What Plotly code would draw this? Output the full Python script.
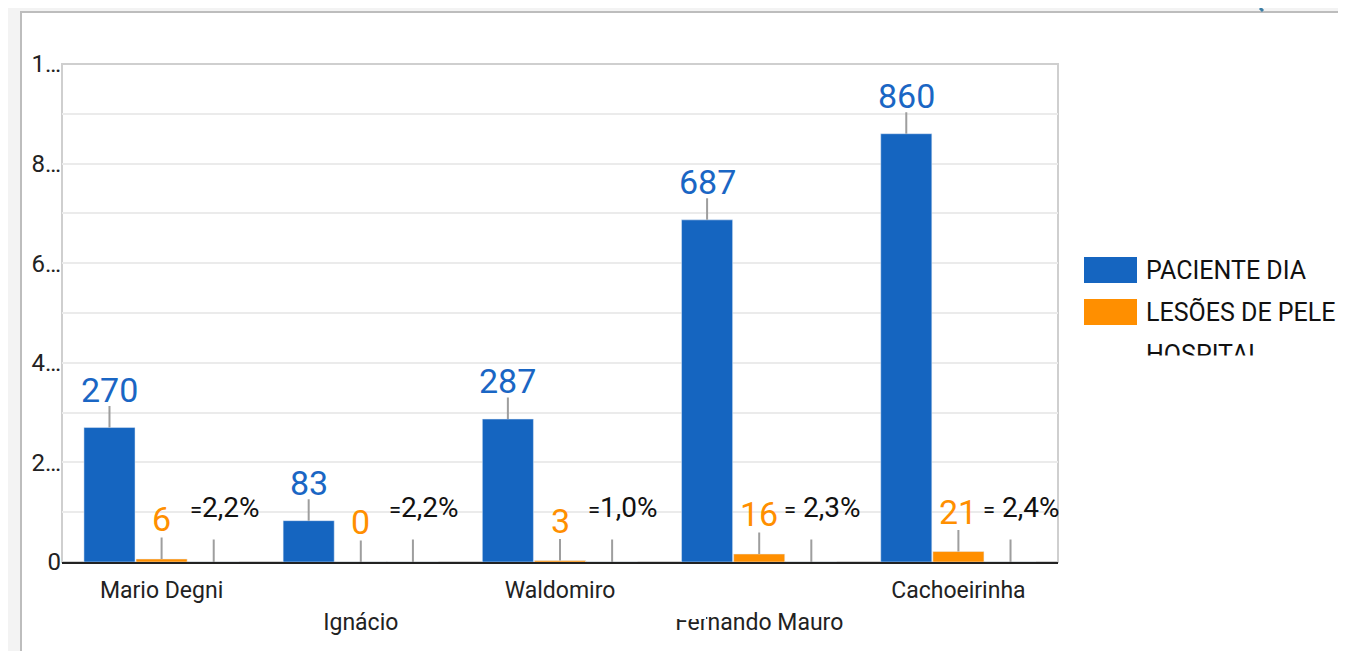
import plotly.graph_objects as go

# dados do gráfico
categorias = ["Mario Degni", "Ignácio", "Waldomiro", "Fernando Mauro", "Cachoeirinha"]
paciente_dia = [270, 83, 287, 687, 860]
lesoes_pele = [6, 0, 3, 16, 21]
percentuais = ["=2,2%", "=2,2%", "=1,0%", "= 2,3%", "= 2,4%"]
nomes_series = ["PACIENTE DIA", "LESÕES DE PELE", "HOSPITAL"]
y_ticks = [0, 200, 400, 600, 800, 1000]
y_tick_text = ["0", "2…", "4…", "6…", "8…", "1…"]

AZUL = "#1565c0"
LARANJA = "#ff8f00"
CINZA_HASTE = "#9e9e9e"
FONTE = "Roboto"

# a página tem 8px de margem no body
OFF = 8
W, H = 1346 - OFF, 651 - OFF
PL, PR, PT, PB = 62, 1058, 64, 562  # área do gráfico em pixels da página
PW, PH = PR - PL, PB - PT
ML, MT = PL - OFF, PT - OFF
MR, MB = W - ML - PW, H - MT - PH


def px_x(p):
    return (p - PL) / PW


def px_y(p):
    return (PB - p) / PH


BARGAP = 0.215
larg = (1 - BARGAP) / 3

fig = go.Figure()
fig.add_trace(go.Bar(x=categorias, y=paciente_dia, name=nomes_series[0],
                     marker_color=AZUL, hoverinfo="skip"))
fig.add_trace(go.Bar(x=categorias, y=lesoes_pele, name=nomes_series[1],
                     marker_color=LARANJA, hoverinfo="skip"))
# terceira série (percentual) só ocupa o lugar no grupo
fig.add_trace(go.Bar(x=categorias, y=[0] * len(categorias), name="pct",
                     marker_color="rgba(0,0,0,0)", hoverinfo="skip"))
# eixo auxiliar para os rótulos da segunda linha
fig.add_trace(go.Scatter(x=categorias, y=[None] * len(categorias), xaxis="x2",
                         showlegend=False, hoverinfo="skip"))

anots = []


def rotulo(x, y, texto, cor, tam, haste, yshift, xshift=0):
    anots.append(dict(x=x, y=y, xref="x", yref="y", text="", showarrow=True,
                      arrowhead=0, arrowwidth=2, arrowcolor=CINZA_HASTE,
                      ax=0, ay=-haste))
    anots.append(dict(x=x, y=y, xref="x", yref="y", text=texto, showarrow=False,
                      yanchor="bottom", xanchor="center", yshift=yshift, xshift=xshift,
                      font=dict(family=FONTE, size=tam, color=cor)))


for i in range(len(categorias)):
    rotulo(i - larg, paciente_dia[i], str(paciente_dia[i]), "#1a66c4", 34, 23, 16)
    rotulo(i, lesoes_pele[i], str(lesoes_pele[i]), "#ff8f00", 34, 23, 18)
    pct = percentuais[i].replace("=", "<span style='font-size:22px'>=</span>")
    rotulo(i + larg, 0, pct, "#111111", 28, 24, 36, 11)

# legenda desenhada à mão (quadrados grandes como no original)
shapes = []
leg = [(AZUL, nomes_series[0], 257, 283), (LARANJA, nomes_series[1], 299, 325)]
for cor, nome, y0, y1 in leg:
    shapes.append(dict(type="rect", xref="paper", yref="paper",
                       x0=px_x(1084), x1=px_x(1137), y0=px_y(y1), y1=px_y(y0),
                       fillcolor=cor, line=dict(width=0), layer="above"))
    anots.append(dict(x=px_x(1144), y=px_y((y0 + y1) / 2), xref="paper", yref="paper",
                      text=nome, showarrow=False, xanchor="left", yanchor="middle",
                      font=dict(family=FONTE, size=25, color="#111111")))
anots.append(dict(x=px_x(1144), y=px_y(354), xref="paper", yref="paper",
                  text=nomes_series[2], showarrow=False, xanchor="left", yanchor="middle",
                  font=dict(family=FONTE, size=25, color="#111111")))
# corte da legenda (texto cortado no original)
anots.append(dict(x=px_x(1138), y=px_y(355), xref="paper", yref="paper",
                  text=" ", showarrow=False, xanchor="left", yanchor="top",
                  width=220, height=34, bgcolor="white", borderpad=0))

# cartão branco e moldura
shapes.insert(0, dict(type="rect", xref="paper", yref="paper",
                      x0=px_x(21), x1=px_x(W + 40), y0=px_y(H + 40), y1=px_y(12),
                      fillcolor="white", line=dict(color="#bdbdbd", width=2), layer="below"))
shapes.append(dict(type="rect", xref="paper", yref="paper", x0=0, x1=1, y0=0, y1=1,
                   line=dict(color="#cfcfcf", width=2), layer="below"))
shapes.append(dict(type="line", xref="paper", yref="paper",
                   x0=px_x(1260), x1=px_x(1263), y0=px_y(OFF), y1=px_y(11),
                   line=dict(color="#3c7ea6", width=3)))
# tarja branca que cobre o topo de "Fernando Mauro"
shapes.append(dict(type="rect", xref="paper", yref="paper",
                   x0=px_x(668), x1=px_x(706), y0=px_y(619), y1=px_y(604),
                   fillcolor="white", line=dict(width=0), layer="above"))

fig.update_layout(
    width=W, height=H,
    margin=dict(l=ML, r=MR, t=MT, b=MB),
    paper_bgcolor="#f3f3f3",
    plot_bgcolor="white",
    barmode="group", bargap=BARGAP, bargroupgap=0.02,
    showlegend=False,
    font=dict(family=FONTE, size=22, color="#222222"),
    annotations=anots,
    shapes=shapes,
    xaxis=dict(type="category", categoryarray=categorias, range=[-0.5, 4.5],
               tickmode="array", tickvals=categorias[0::2], ticktext=categorias[0::2],
               ticks="", showgrid=False, zeroline=False, showline=True,
               linecolor="#222222", linewidth=2, ticklabelstandoff=6,
               tickfont=dict(family=FONTE, size=23, color="#222222")),
    xaxis2=dict(type="category", categoryarray=categorias, range=[-0.5, 4.5],
                overlaying="x", side="bottom", anchor="y",
                tickmode="array", tickvals=categorias[1::2], ticktext=categorias[1::2],
                ticks="", showgrid=False, zeroline=False, showline=False,
                ticklabelstandoff=44,
                tickfont=dict(family=FONTE, size=23, color="#222222")),
    yaxis=dict(range=[0, 1000], tickmode="array",
               tickvals=list(range(0, 1001, 100)),
               ticktext=[y_tick_text[y_ticks.index(v)] if v in y_ticks else "" for v in range(0, 1001, 100)],
               showgrid=True, gridcolor="#ebebeb", gridwidth=1.5,
               zeroline=False, showline=False, ticks="",
               tickfont=dict(family=FONTE, size=24, color="#222222")),
)

fig.write_html("out.html")
